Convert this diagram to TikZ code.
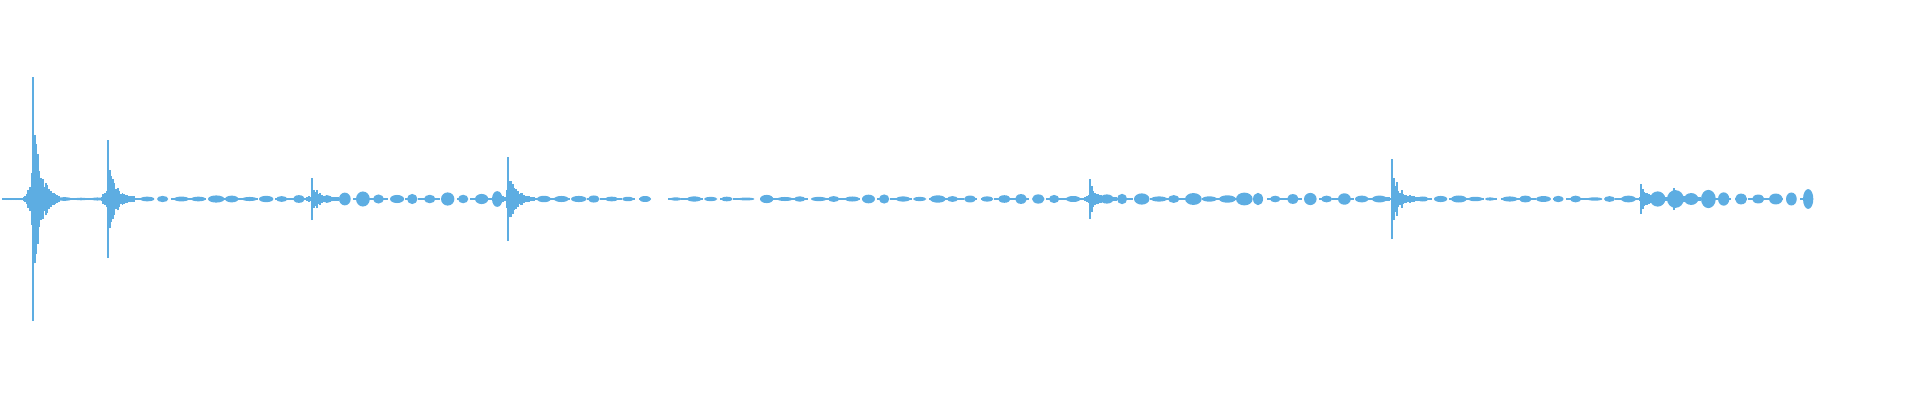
\documentclass[tikz,border=0pt]{standalone}
\usetikzlibrary{positioning}
\definecolor{wave}{RGB}{93,173,226}
\tikzset{baseline wave/.style={wave,line width=1.3pt,dash pattern=on 9pt off 4pt},
         spike/.style={wave,line width=1.8pt}}
\begin{document}
\begin{tikzpicture}[x=1pt,y=1pt]
	\useasboundingbox (0,0) rectangle (1920,400);
	\pgfmathsetseed{11}
	% zero line
	\draw[baseline wave] (2,201) -- (648,201);
	\draw[baseline wave] (668,201) -- (745,201);
	\draw[baseline wave] (760,201) -- (1812,201);
	% small bursts between the hits
	\foreach \xa/\xb/\am in {40/95/3, 140/300/4, 322/500/8.5, 520/640/4, 670/740/3,
		760/1080/5, 1100/1380/6.5, 1400/1630/4, 1650/1805/10}{
		\pgfmathsetmacro\xs{\xa+17}
		\foreach \x in {\xa,\xs,...,\xb}{
			\pgfmathsetmacro\h{\am*(0.4+0.6*rnd)}
			\pgfmathsetmacro\w{10+7*rnd}
			\fill[wave] (\x+\w/2,201) ellipse [x radius=\w/2, y radius=\h];
		}
	}
	% hits
	\foreach \xo/\am in {33/122, 108/59, 312/21, 508/42, 1090/20, 1392/40, 1641/15, 1674/11}{
		\draw[spike] (\xo,201-\am) -- (\xo,201+\am);
		\foreach \k in {1,...,16}{
			\pgfmathsetmacro\h{\am*0.75*exp(-\k/4.5)*(0.5+0.5*rnd)+1.5}
			\draw[spike] (\xo+1.6*\k,201-\h) -- (\xo+1.6*\k,201+\h);
			\pgfmathsetmacro\g{\am*0.5*exp(-\k/1.5)*rnd+1}
			\draw[spike] (\xo-1.6*\k,201-\g) -- (\xo-1.6*\k,201+\g);
		}
	}
\end{tikzpicture}
\end{document}
